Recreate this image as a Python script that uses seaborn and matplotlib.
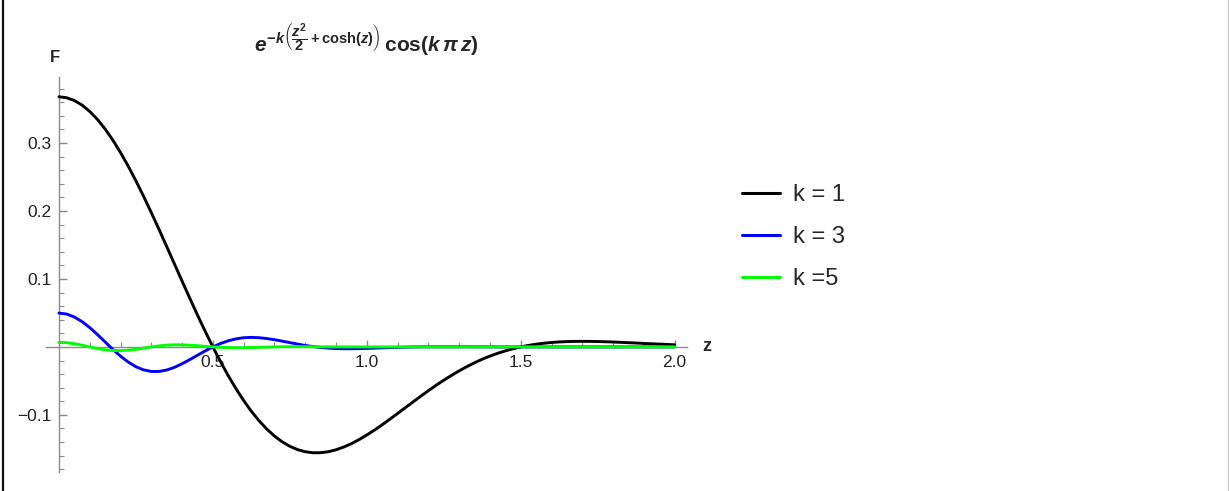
import numpy as np
import pandas as pd
import seaborn as sns
import matplotlib.pyplot as plt
from matplotlib.lines import Line2D
from matplotlib.ticker import FixedLocator

# values, z step 0.025 from 0 to 2
z = [round(0.025 * i, 3) for i in range(81)]

k1 = [0.3679, 0.3665, 0.3624, 0.3557, 0.3464, 0.3346, 0.3205, 0.3042, 0.2859, 0.2659,
      0.2443, 0.2215, 0.1976, 0.1729, 0.1477, 0.1222, 0.0968, 0.0716, 0.0469, 0.0230,
      0.0, -0.0218, -0.0424, -0.0614, -0.0789, -0.0947, -0.1086, -0.1208, -0.1311, -0.1396,
      -0.1462, -0.1511, -0.1542, -0.1557, -0.1556, -0.1542, -0.1513, -0.1473, -0.1423, -0.1363,
      -0.1296, -0.1223, -0.1145, -0.1063, -0.0979, -0.0894, -0.0810, -0.0726, -0.0644, -0.0565,
      -0.0490, -0.0419, -0.0352, -0.0290, -0.0233, -0.0181, -0.0135, -0.0094, -0.0058, -0.0027,
      0.0, 0.0022, 0.0040, 0.0054, 0.0065, 0.0073, 0.0078, 0.0081, 0.0082, 0.0081,
      0.0079, 0.0076, 0.0072, 0.0067, 0.0062, 0.0057, 0.0051, 0.0046, 0.0041, 0.0036,
      0.0031]

k3 = [0.0498, 0.0483, 0.0440, 0.0372, 0.0284, 0.0182, 0.0073, -0.0036, -0.0136, -0.0223,
      -0.0292, -0.0338, -0.0361, -0.0361, -0.0340, -0.0301, -0.0248, -0.0187, -0.0123, -0.0059,
      0.0, 0.0050, 0.0090, 0.0118, 0.0135, 0.0140, 0.0135, 0.0123, 0.0106, 0.0085,
      0.0063, 0.0041, 0.0021, 0.0005, -0.0008, -0.0018, -0.0024, -0.0027, -0.0027, -0.0025,
      -0.0022, -0.0018, -0.0014, -0.0010, -0.0006, -0.0004, -0.0001, 0.0001, 0.0002, 0.0002,
      0.0002, 0.0002, 0.0002, 0.0002, 0.0001, 0.0001, 0.0001] + [0.0] * 24

k5 = [0.0067, 0.0062, 0.0047, 0.0025, 0.0, -0.0024, -0.0043, -0.0053, -0.0055, -0.0048,
      -0.0035, -0.0018, 0.0, 0.0015, 0.0026, 0.0031, 0.0030, 0.0025, 0.0017, 0.0008,
      0.0, -0.0006, -0.0010, -0.0012, -0.0011, -0.0009, -0.0006, -0.0003, 0.0, 0.0002,
      0.0003, 0.0003, 0.0003, 0.0002, 0.0001, 0.0001, 0.0] + [0.0] * 44

labels = ['k = 1', 'k = 3', 'k =5']
colors = ['#000000', '#0000ff', '#00ff00']

x_ticks = [0.5, 1.0, 1.5, 2.0]
x_ticklabels = ['0.5', '1.0', '1.5', '2.0']
y_ticks = [-0.1, 0.1, 0.2, 0.3]
y_ticklabels = ['\u22120.1', '0.1', '0.2', '0.3']

df = pd.DataFrame({
    'z': z * 3,
    'F': k1 + k3 + k5,
    'k': [labels[0]] * len(z) + [labels[1]] * len(z) + [labels[2]] * len(z),
})

sns.set_style('ticks')
plt.rcParams['font.family'] = ['Liberation Sans', 'DejaVu Sans']
plt.rcParams['mathtext.fontset'] = 'custom'
plt.rcParams['mathtext.rm'] = 'Liberation Sans:bold'
plt.rcParams['mathtext.it'] = 'Liberation Sans:italic:bold'
plt.rcParams['mathtext.bf'] = 'Liberation Sans:bold'

fig = plt.figure(figsize=(12.29, 4.91), dpi=100)
ax = fig.add_axes([46 / 1229, 19 / 491, 641 / 1229, 395 / 491])

sns.lineplot(data=df, x='z', y='F', hue='k', palette=colors, linewidth=2.1,
             ax=ax, legend=False)

ax.set_xlim(-0.042, 2.04)
ax.set_ylim(-0.184, 0.397)

# axes through the origin, Mathematica style
axis_col = '#8a8a8a'
ax.spines['left'].set_position(('data', 0))
ax.spines['bottom'].set_position(('data', 0))
ax.spines['top'].set_visible(False)
ax.spines['right'].set_visible(False)
for s in ['left', 'bottom']:
    ax.spines[s].set_color(axis_col)
    ax.spines[s].set_linewidth(1.0)
    ax.spines[s].set_zorder(0)

ax.set_xticks(x_ticks)
ax.set_xticklabels(x_ticklabels)
ax.set_yticks(y_ticks)
ax.set_yticklabels(y_ticklabels)
ax.xaxis.set_minor_locator(FixedLocator([0.1 * i for i in range(1, 20) if i % 5 != 0]))
ax.yaxis.set_minor_locator(FixedLocator([round(0.02 * i, 2) for i in range(-9, 20) if i % 5 != 0]))
ax.tick_params(axis='both', which='both', bottom=True, left=True, top=False, right=False,
               direction='in', color=axis_col)
ax.tick_params(axis='both', which='major', labelsize=12.5, labelcolor='#222222', width=1.0)
ax.tick_params(axis='x', which='major', length=5, pad=6)
ax.tick_params(axis='y', which='major', length=6, pad=5)
ax.tick_params(axis='both', which='minor', length=3.5, width=0.8)
ax.set_xlabel('')
ax.set_ylabel('')

ax.text(2.104, 0, 'z', fontsize=13, fontweight='bold', ha='center', va='center')
fig.text(55 / 1229, 1 - 58 / 491, 'F', fontsize=12, fontweight='bold', ha='center', va='center')

fig.text(366 / 1229, 1 - 52 / 491,
         r'$e^{-k\left(\dfrac{z^2}{2}+\mathrm{cosh}(z)\right)}\,\mathrm{cos}(k\,\pi\,z)$',
         fontsize=15, ha='center', va='baseline')

handles = [Line2D([], [], color=c, linewidth=2.2) for c in colors]
fig.legend(handles, labels, loc='center left', bbox_to_anchor=(742 / 1229, 1 - 237 / 491),
           frameon=False, fontsize=17, handlelength=1.6, handletextpad=0.55,
           labelspacing=0.84, borderpad=0, borderaxespad=0)

# frame edges
fig.add_artist(Line2D([3 / 1229, 3 / 1229], [0, 1], color='#111111', linewidth=1.6))
fig.add_artist(Line2D([1228 / 1229, 1228 / 1229], [0, 1], color='#cccccc', linewidth=1.0))

fig.savefig('out.png', dpi=100)
